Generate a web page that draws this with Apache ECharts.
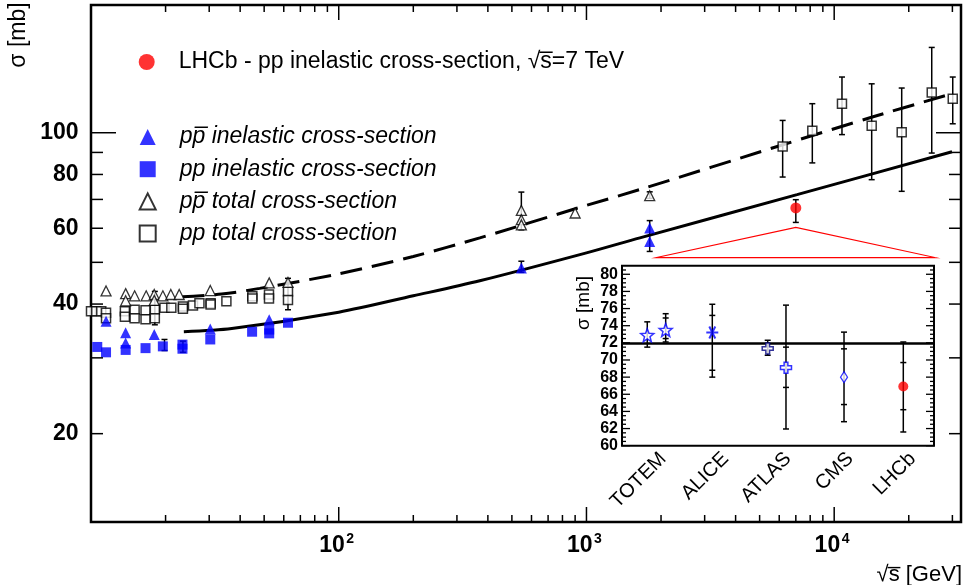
<!DOCTYPE html>
<html>
<head>
<meta charset="utf-8">
<script src="https://cdn.jsdelivr.net/npm/echarts@6/dist/echarts.min.js"></script>
<style>html,body{margin:0;padding:0;background:#fff}#c{width:967px;height:585px}</style>
</head>
<body>
<div id="c"></div>
<script>
// ---------------- data (main plot) ----------------
const lhcbPoint = [[7000, 66.9]];
const ppbarInelastic = [[11.5,36.5],[13.8,34.3],[13.8,32.5],[18.0,34.0],[30.3,35.0],[52.4,36.8],[546,48.5],[1800,60.1],[1800,55.9]];
const ppInelastic = [[10.6,31.8],[11.5,30.9],[13.8,31.3],[16.6,31.6],[19.5,31.9],[23.4,32.2],[23.4,31.5],[30.3,33.1],[44.7,34.5],[52.4,34.9],[52.4,34.2],[62.4,36.2]];
const ppbarTotal = [[11.5,42.9],[13.8,42.3],[13.8,40.7],[15.0,41.8],[16.7,41.8],[18.0,42.1],[18.0,40.8],[19.5,41.8],[21.0,42.1],[22.7,42.1],[30.3,43.0],[52.4,44.8],[62.4,44.9],[546,66.0],[546,62.8],[546,61.1],[900,65.1],[1800,71.4]];
const ppTotal = [[10.0,38.5],[10.5,38.5],[11.0,38.5],[11.5,38.2],[11.5,37.1],[13.7,38.5],[13.7,37.4],[15.0,38.8],[15.0,37.1],[16.6,38.7],[16.6,36.9],[18.1,38.8],[18.1,37.1],[19.8,39.2],[21.1,39.2],[23.5,39.5],[23.5,39.0],[25.8,39.7],[27.4,40.2],[30.4,40.2],[30.4,39.9],[35.2,40.6],[44.8,41.7],[44.8,41.2],[52.3,42.1],[52.3,41.2],[62.4,42.8],[62.4,40.9],
  [6194,92.9],[8160,101.1],[10750,116.8],[14170,103.8],[18730,100.2],[24760,124.0],[30100,120.0]];
// error bars: [sqrt(s), low, high]
const mainErrors = [[6194,78.9,106.8],[8160,85.1,116.8],[10750,99.0,134.7],[14170,77.8,129.9],[18730,73.1,127.0],[24760,89.7,157.8],[30100,104.9,134.7],
  [7000,61.9,69.9],[1800,53.0,62.5],[1800,70.4,72.9],[546,47.4,50.3],[546,59.5,72.8],[62.4,38.8,45.9],[18.1,35.8,42.8],[19.8,31.2,33.1],[23.5,30.9,32.8]];
// model curves
const totalFit = [[23.4,41.6],[33.7,42.2],[48,43.5],[100,47.0],[200,51.6],[371,57.0],[1000,67.8],[1643,73.8],[6209,93.8],[14360,108.9],[29900,123.2]];
const inelasticFit = [[23.7,34.5],[37,35.1],[100,38.3],[200,41.8],[371,45.3],[1000,52.6],[1643,57.0],[7080,71.8],[29900,90.3]];
// zoom callout (red triangle) in data coordinates
const calloutPoints = [[1919,51.3],[7000,60.3],[25530,51.3]];
// axes ticks / labels
const xMajorTicks = [100, 1000, 10000];
const xMajorExp = ['2','3','4'];
const xMinorTicks = [20,30,40,50,60,70,80,90,200,300,400,500,600,700,800,900,2000,3000,4000,5000,6000,7000,8000,9000,20000,30000];
const yMinorTicks = [20,30,40,50,60,70,80,90];
const yMajorTicks = [100];
const yLabels = [20,40,60,80,100];

// ---------------- data (inset) ----------------
const insetCategories = ['TOTEM','ALICE','ATLAS','CMS','LHCb'];
const insetTotem = [[0.405,72.9],[0.70,73.5]];
const insetAlice = [[1.447,73.2]];
const insetAtlas1 = [[2.335,71.34]];
const insetAtlas2 = [[2.628,69.1]];
const insetCms = [[3.558,68.0]];
const insetLhcb = [[4.508,66.9]];
const insetOuterErr = [[0.405,71.5,74.45],[0.70,72.1,75.4],[1.447,68.0,76.5],[2.335,70.55,72.3],[2.628,61.95,76.4],[3.558,62.8,73.25],[4.508,61.6,72.1]];
const insetInnerErr = [[0.70,72.5,74.9],[1.447,68.8,75.2],[2.628,66.8,71.5],[3.558,64.8,71.3],[4.508,64.2,69.7]];
const insetModel = 72;
const insetYLabels = [60,62,64,66,68,70,72,74,76,78,80];
const insetYMinor = [60.5,61,61.5,62.5,63,63.5,64.5,65,65.5,66.5,67,67.5,68.5,69,69.5,70.5,71,71.5,72.5,73,73.5,74.5,75,75.5,76.5,77,77.5,78.5,79,79.5,80.5];

// ---------------- rendering ----------------
const FONT = '"Liberation Sans", Arial, Helvetica, sans-serif';
const BLUE = '#0000ff';
const nameLHCb = 'LHCb - pp inelastic cross-section, \u221As\u0305=7 TeV';
const namePbarInel = 'pp\u0305 inelastic cross-section';
const namePPInel = 'pp inelastic cross-section';
const namePbarTot = 'pp\u0305 total cross-section';
const namePPTot = 'pp total cross-section';

function ln(x1,y1,x2,y2,w,c){return {type:'line',shape:{x1,y1,x2,y2},style:{stroke:c||'#000',lineWidth:w||1.5}};}
function tx(x,y,text,size,weight,align,va,rot){
  return {type:'text',x,y,rotation:rot||0,style:{text,fill:'#000',fontSize:size,fontFamily:FONT,fontWeight:weight||'normal',align:align||'center',verticalAlign:va||'middle'}};
}

function renderMainAxes(params, api){
  const cs = params.coordSys;
  const L = cs.x, R = cs.x + cs.width, T = cs.y, B = cs.y + cs.height;
  const ch = [];
  xMinorTicks.forEach(v=>{const p=api.coord([v,50])[0]; ch.push(ln(p,B,p,B-7)); ch.push(ln(p,T,p,T+7));});
  xMajorTicks.forEach((v,i)=>{const p=api.coord([v,50])[0]; ch.push(ln(p,B,p,B-15)); ch.push(ln(p,T,p,T+15));
    ch.push(tx(p+6,546,'10',23,'bold','right','middle'));
    ch.push(tx(p+7.5,539,xMajorExp[i],14,'bold','left','middle'));});
  yMinorTicks.forEach(v=>{const p=api.coord([100,v])[1]; ch.push(ln(L,p,L+12,p)); ch.push(ln(R,p,R-12,p));});
  yMajorTicks.forEach(v=>{const p=api.coord([100,v])[1]; ch.push(ln(L,p,L+25,p)); ch.push(ln(R,p,R-25,p));});
  yLabels.forEach(v=>{const p=api.coord([100,v])[1]; ch.push(tx(L-12.5,p,String(v),23,'bold','right','middle'));});
  ch.push(tx(19,35,'\u03C3 [mb]',23,'normal','center','middle',Math.PI/2));
  ch.push(tx(R+1,575,'\u221As\u0305 [GeV]',22,'normal','right','middle'));
  return {type:'group',children:ch};
}

function renderInsetAxes(params, api){
  const cs = params.coordSys;
  const L = cs.x, R = cs.x + cs.width, B = cs.y + cs.height;
  const ch = [];
  insetYLabels.forEach(v=>{const p=api.coord([0,v])[1]; ch.push(ln(L,p,L+8,p,1.3)); ch.push(ln(R,p,R-8,p,1.3));
    ch.push(tx(L-4,p,String(v),16,'bold','right','middle'));});
  insetYMinor.forEach(v=>{const p=api.coord([0,v])[1]; ch.push(ln(L,p,L+4,p,1.3)); ch.push(ln(R,p,R-4,p,1.3));});
  insetCategories.forEach((c,i)=>{const p=api.coord([i+0.5,60])[0]; ch.push(tx(p+10,B+10,c,20,'normal','right','middle',Math.PI/4));});
  ch.push(tx(584,303,'\u03C3 [mb]',19,'normal','center','middle',Math.PI/2));
  return {type:'group',children:ch};
}

function errRenderer(capW, stem, lw){
  return function(params, api){
    const x = api.value(0), lo = api.value(1), hi = api.value(2);
    const a = api.coord([x,lo]), b = api.coord([x,hi]);
    const ch = [];
    if (stem) ch.push(ln(a[0],a[1],b[0],b[1],lw));
    ch.push(ln(a[0]-capW/2,a[1],a[0]+capW/2,a[1],lw));
    ch.push(ln(b[0]-capW/2,b[1],b[0]+capW/2,b[1],lw));
    return {type:'group',children:ch};
  };
}

function renderCallout(params, api){
  const pts = calloutPoints.map(p=>api.coord(p));
  return {type:'polygon',shape:{points:pts},style:{fill:'none',stroke:'#ff0000',lineWidth:1.2}};
}

const starPath = 'path://M0,-10L2.47,-3.4L9.51,-3.09L3.99,1.3L5.88,8.09L0,4.2L-5.88,8.09L-3.99,1.3L-9.51,-3.09L-2.47,-3.4Z';
const crossPath = 'path://M-2.2,-6.5L2.2,-6.5L2.2,-2.2L6.5,-2.2L6.5,2.2L2.2,2.2L2.2,6.5L-2.2,6.5L-2.2,2.2L-6.5,2.2L-6.5,-2.2L-2.2,-2.2Z';
const asteriskPath = 'path://M-10,0L10,0M-5,-8.66L5,8.66M-5,8.66L5,-8.66';

const chart = echarts.init(document.getElementById('c'));
const legendText = {fontFamily:FONT,fontSize:23,color:'#000',padding:[0,0,0,19],lineHeight:24};
chart.setOption({
  animation:false,
  backgroundColor:'#fff',
  grid:[
    {left:91,right:6,top:5,bottom:63,show:true,borderColor:'#000',borderWidth:2.5,backgroundColor:'transparent'},
    {left:622,top:265.7,width:312,height:180,show:true,borderColor:'#000',borderWidth:2,backgroundColor:'#fff',z:3}
  ],
  xAxis:[
    {type:'log',logBase:10,min:10,max:32500,gridIndex:0,axisLine:{show:false},axisTick:{show:false},axisLabel:{show:false},splitLine:{show:false}},
    {type:'value',min:0,max:5,gridIndex:1,axisLine:{show:false},axisTick:{show:false},axisLabel:{show:false},splitLine:{show:false}}
  ],
  yAxis:[
    {type:'log',logBase:10,min:12.47,max:198,gridIndex:0,axisLine:{show:false},axisTick:{show:false},axisLabel:{show:false},splitLine:{show:false}},
    {type:'value',min:60,max:81,gridIndex:1,axisLine:{show:false},axisTick:{show:false},axisLabel:{show:false},splitLine:{show:false}}
  ],
  legend:[
    {data:[nameLHCb],orient:'vertical',left:133.7,top:45,itemWidth:16,itemHeight:16,selectedMode:false,textStyle:legendText},
    {data:[namePbarInel,namePPInel,namePbarTot,namePPTot],orient:'vertical',left:133.7,top:120,itemWidth:16,itemHeight:16,itemGap:8.2,selectedMode:false,
     textStyle:Object.assign({},legendText,{fontStyle:'italic'})}
  ],
  series:[
    {type:'custom',name:'axes',xAxisIndex:0,yAxisIndex:0,clip:false,silent:true,data:[[100,50]],renderItem:renderMainAxes,z:5},
    {type:'line',name:'totalFit',data:totalFit,smooth:0.3,showSymbol:false,symbol:'none',lineStyle:{color:'#000',width:3,type:[22,10]},z:2},
    {type:'line',name:'inelFit',data:inelasticFit,smooth:0.3,showSymbol:false,symbol:'none',lineStyle:{color:'#000',width:3},z:2},
    {type:'custom',name:'callout',clip:false,silent:true,data:[[100,50]],renderItem:renderCallout,z:2},
    {type:'custom',name:'mainErr',clip:false,silent:true,dimensions:['x','lo','hi'],encode:{x:0,y:[1,2]},data:mainErrors,renderItem:errRenderer(6,true,1.5),z:3},
    {type:'scatter',name:namePPTot,data:ppTotal,symbol:'rect',symbolSize:9,itemStyle:{color:'#fff',borderColor:'#000',borderWidth:1.5},z:4},
    {type:'scatter',name:namePbarTot,data:ppbarTotal,symbol:'triangle',symbolSize:10,itemStyle:{color:'#fff',borderColor:'#000',borderWidth:1.3},z:4},
    {type:'scatter',name:namePPInel,data:ppInelastic,symbol:'rect',symbolSize:10,itemStyle:{color:BLUE},z:4},
    {type:'scatter',name:namePbarInel,data:ppbarInelastic,symbol:'triangle',symbolSize:11,itemStyle:{color:BLUE},z:4},
    {type:'scatter',name:nameLHCb,data:lhcbPoint,symbol:'circle',symbolSize:11,itemStyle:{color:'#ff0000'},z:5},
    // inset
    {type:'custom',name:'insetAxes',xAxisIndex:1,yAxisIndex:1,clip:false,silent:true,data:[[1,70]],renderItem:renderInsetAxes,z:6},
    {type:'custom',name:'insetOuter',xAxisIndex:1,yAxisIndex:1,clip:false,silent:true,dimensions:['x','lo','hi'],encode:{x:0,y:[1,2]},data:insetOuterErr,renderItem:errRenderer(6,true,1.5),z:6},
    {type:'custom',name:'insetInner',xAxisIndex:1,yAxisIndex:1,clip:false,silent:true,dimensions:['x','lo','hi'],encode:{x:0,y:[1,2]},data:insetInnerErr,renderItem:errRenderer(6,false,1.5),z:6},
    {type:'scatter',name:'TOTEM',xAxisIndex:1,yAxisIndex:1,data:insetTotem,symbol:starPath,symbolSize:13,itemStyle:{color:'#fff',borderColor:BLUE,borderWidth:1.5},z:7,
      markLine:{silent:true,symbol:'none',label:{show:false},lineStyle:{color:'#000',width:2.5,type:'solid'},data:[{yAxis:insetModel}]}},
    {type:'scatter',name:'ALICE',xAxisIndex:1,yAxisIndex:1,data:insetAlice,symbol:asteriskPath,symbolSize:12,itemStyle:{color:'none',borderColor:BLUE,borderWidth:2},z:7},
    {type:'scatter',name:'ATLAS1',xAxisIndex:1,yAxisIndex:1,data:insetAtlas1,symbol:crossPath,symbolSize:11,itemStyle:{color:'#fff',borderColor:'#000080',borderWidth:1.5},z:7},
    {type:'scatter',name:'ATLAS2',xAxisIndex:1,yAxisIndex:1,data:insetAtlas2,symbol:crossPath,symbolSize:11,itemStyle:{color:'#fff',borderColor:BLUE,borderWidth:1.5},z:7},
    {type:'scatter',name:'CMS',xAxisIndex:1,yAxisIndex:1,data:insetCms,symbol:'diamond',symbolSize:[7,11],itemStyle:{color:'#fff',borderColor:BLUE,borderWidth:1.3},z:7},
    {type:'scatter',name:'LHCb',xAxisIndex:1,yAxisIndex:1,data:insetLhcb,symbol:'circle',symbolSize:10,itemStyle:{color:'#ff0000'},z:7}
  ]
});
</script>
</body>
</html>
